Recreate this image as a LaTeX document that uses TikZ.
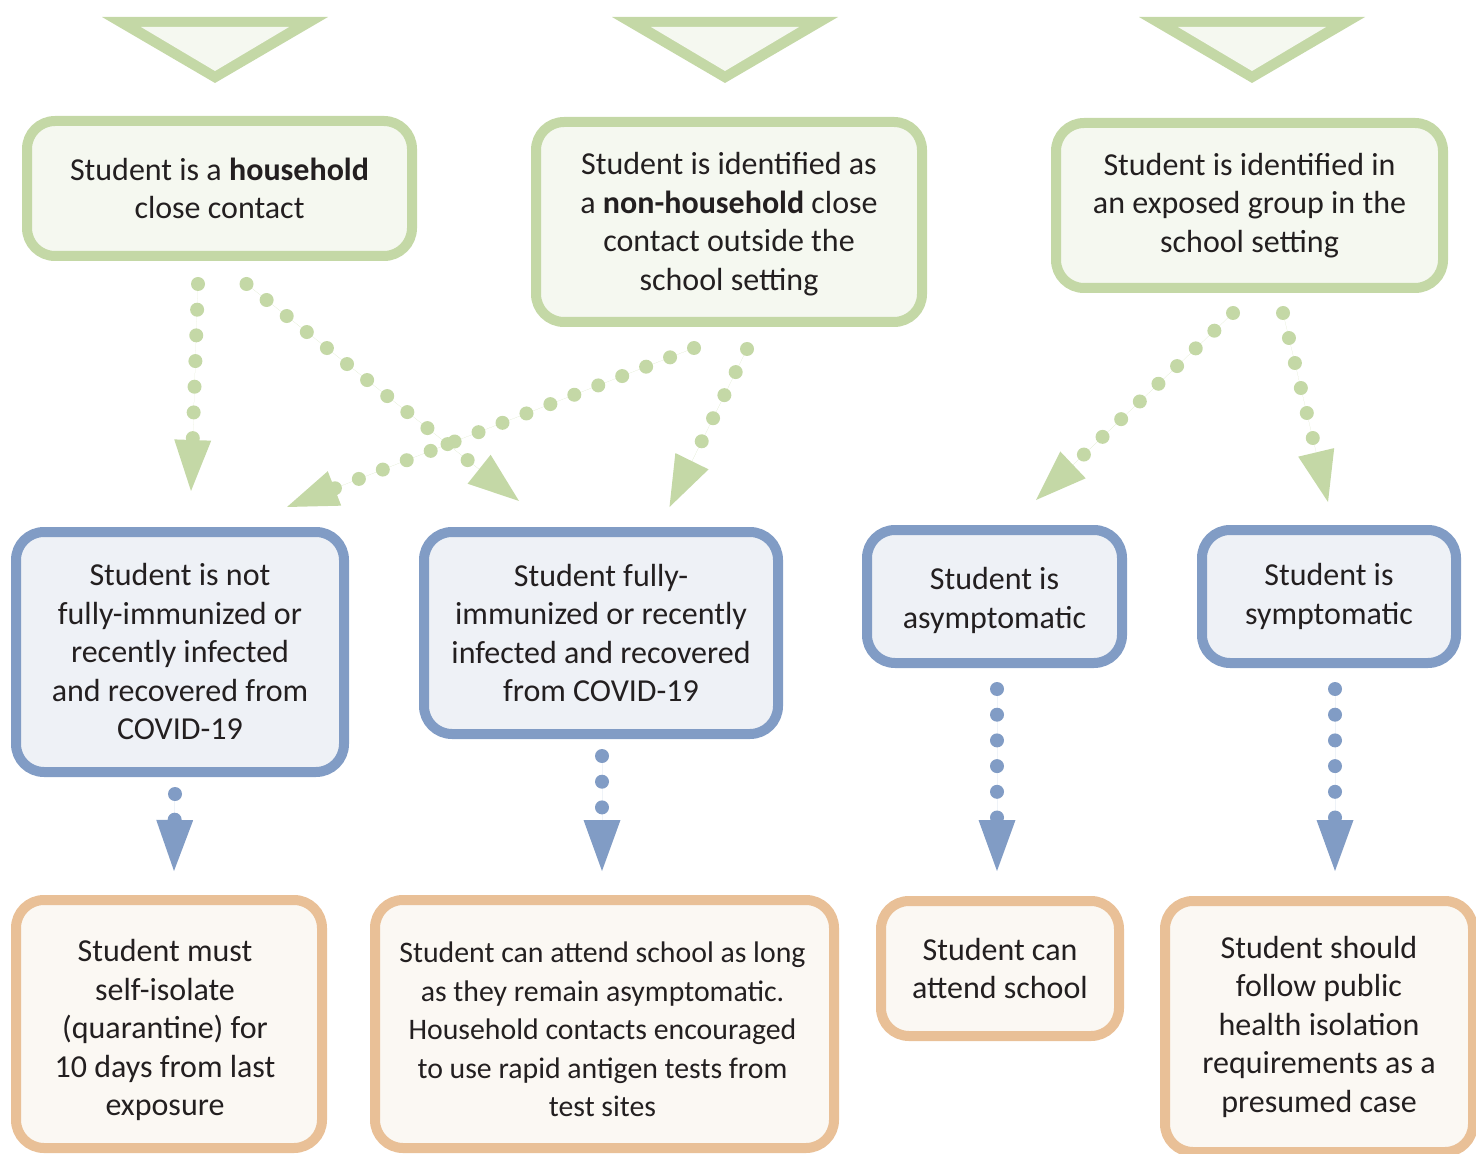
\documentclass[tikz,border=0pt]{standalone}
\usepackage{fontspec}
\setmainfont{Carlito}
\usetikzlibrary{arrows.meta}
\definecolor{gstroke}{HTML}{C4D8A6}
\definecolor{gfill}{HTML}{F5F8F0}
\definecolor{bstroke}{HTML}{819CC5}
\definecolor{bfill}{HTML}{EEF1F6}
\definecolor{ostroke}{HTML}{E9C097}
\definecolor{ofill}{HTML}{FBF8F3}
\definecolor{txt}{HTML}{231F20}
\newcommand{\boxfont}{\fontsize{16}{19.25}\selectfont}
\newcommand{\smallboxfont}{\fontsize{14.9}{19.25}\selectfont}
\newcommand{\dnbox}[2]{\raisebox{-#1}[\height][\depth]{\begin{tabular}{@{}c@{}}#2\end{tabular}}}
\tikzset{
  basebox/.style={line width=5pt, rounded corners=14pt, align=center, inner sep=0pt,
    text=txt, font=\boxfont},
  gbox/.style={basebox, draw=gstroke, fill=gfill},
  bbox/.style={basebox, draw=bstroke, fill=bfill},
  obox/.style={basebox, draw=ostroke, fill=ofill},
  dotarrow/.style={line width=7pt, line cap=round, dash pattern=on 0pt off 12.85pt,
    -{Triangle[width=18.5pt,length=25.5pt,line width=0pt]}},
  garrow/.style={dotarrow, draw=gstroke, fill=gstroke},
  barrow/.style={dotarrow, draw=bstroke, fill=bstroke},
}
\begin{document}
\begin{tikzpicture}[x=0.5pt,y=-0.5pt]
\useasboundingbox (0,0) rectangle (1476,1154);

% top triangles
\foreach \cx in {215,725,1252}{
  \fill[gstroke] (\cx-113,17) -- (\cx+113,17) -- (\cx,83) -- cycle;
  \fill[gfill] (\cx-74,27) -- (\cx+74,27) -- (\cx,71) -- cycle;
}

% green boxes
\node[gbox, minimum width=192.5pt, minimum height=67.5pt] (g1) at (219.5,188.5)
  {Student is a \textbf{household}\\close contact};
\node[gbox, minimum width=193pt, minimum height=100pt] (g2) at (729,222)
  {\dnbox{1.5pt}{Student is identified as\\a \textbf{non-household} close\\contact outside the\\school setting}};
\node[gbox, minimum width=193.5pt, minimum height=82.5pt] (g3) at (1249.5,205.5)
  {Student is identified in\\an exposed group in the\\school setting};

% blue boxes
\node[bbox, minimum width=164pt, minimum height=120pt] (b1) at (180,652)
  {\dnbox{1.5pt}{Student is not\\fully-immunized or\\recently infected\\and recovered from\\COVID-19}};
\node[bbox, minimum width=177pt, minimum height=101pt] (b2) at (601,633)
  {Student fully-\\immunized or recently\\infected and recovered\\from COVID-19};
\node[bbox, minimum width=127.5pt, minimum height=66.5pt] (b3) at (994.5,596.5)
  {\dnbox{2.5pt}{Student is\\asymptomatic}};
\node[bbox, minimum width=127pt, minimum height=66.5pt] (b4) at (1329,596.5)
  {Student is\\symptomatic};

% orange boxes
\node[obox, minimum width=153pt, minimum height=124pt] (o1) at (169,1024)
  {\dnbox{3.5pt}{\hspace*{-4pt}\begin{tabular}{@{}c@{}}Student must\\self-isolate\\(quarantine) for\\10 days from last\\exposure\end{tabular}}};
\node[obox, minimum width=229.5pt, minimum height=124pt, font=\smallboxfont] (o2) at (604.5,1024)
  {\dnbox{4pt}{\hspace*{-2pt}\begin{tabular}{@{}c@{}}Student can attend school as long\\as they remain asymptomatic.\\Household contacts encouraged\\to use rapid antigen tests from\\test sites\end{tabular}}};
\node[obox, minimum width=119pt, minimum height=67.5pt] (o3) at (1000,968.5)
  {Student can\\attend school};
\node[obox, minimum width=154pt, minimum height=125.5pt] (o4) at (1319,1026.5)
  {Student should\\follow public\\health isolation\\requirements as a\\presumed case};

% green connectors
\draw[garrow] ([shift={(-21.5,23)}]g1.south) -- ([shift={(11,-36)}]b1.north);
\draw[garrow] ([shift={(27,23)}]g1.south) -- ([shift={(-82,-26)}]b2.north);
\draw[garrow] ([shift={(-35,21)}]g2.south) -- ([shift={(107,-20)}]b1.north);
\draw[garrow] ([shift={(18,22)}]g2.south) -- ([shift={(68.5,-20)}]b2.north);
\draw[garrow] ([shift={(-16.5,20)}]g3.south) -- ([shift={(41.5,-25)}]b3.north);
\draw[garrow] ([shift={(33.5,20)}]g3.south) -- ([shift={(-1,-23)}]b4.north);

% blue connectors
\draw[barrow] ([shift={(-5,17)}]b1.south) -- ([shift={(5,-24)}]o1.north);
\draw[barrow] ([shift={(1,17)}]b2.south) -- ([shift={(-2.5,-24)}]o2.north);
\draw[barrow] ([shift={(2.5,21)}]b3.south) -- ([shift={(-3,-25)}]o3.north);
\draw[barrow] ([shift={(6,21)}]b4.south) -- ([shift={(16,-25)}]o4.north);
\end{tikzpicture}
\end{document}
